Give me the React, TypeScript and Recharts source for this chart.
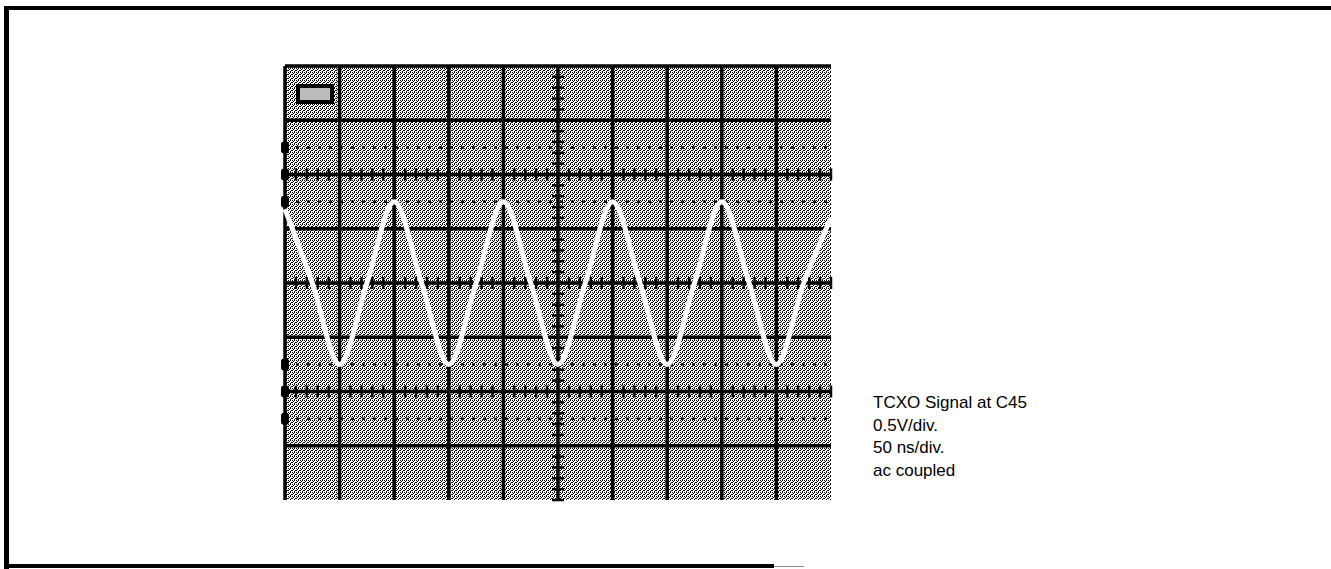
import React from "react";
import {
  ComposedChart,
  Line,
  Scatter,
  XAxis,
  YAxis,
  CartesianGrid,
  ReferenceLine,
} from "recharts";

// time base: 50 ns/div, 10 divisions
const timeTicks = [0, 50, 100, 150, 200, 250, 300, 350, 400, 450, 500];
// vertical: 0.5 V/div, 8 divisions
const voltTicks = [-2, -1.5, -1, -0.5, 0, 0.5, 1, 1.5, 2];
// dotted rise-time lines
const dottedLevels = [1.25, 0.75, -0.75, -1.25];
// lines carrying the minor tick marks
const tickedLevels = [1, 0, -1];
const centerTime = 250;
// graticule markers on the left edge
const markerLevels = [1.25, 1, 0.75, -0.75, -1, -1.25];

const sampleTimes = [
  0, 25, 50, 75, 100, 125, 150, 175, 200, 225, 250, 275, 300, 325, 350, 375, 400,
  425, 450, 475, 500,
];
const sampleVolts = [
  0.68, 0, -0.75, 0, 0.75, 0, -0.75, 0, 0.75, 0, -0.75, 0, 0.75, 0, -0.75, 0, 0.75,
  0, -0.75, 0, 0.6,
];

const wave = sampleTimes.map((t, i) => ({ t, v: sampleVolts[i] }));

// minor ticks: 5 per division
const minorTimes: number[] = [];
timeTicks.slice(0, -1).forEach((t) => {
  for (let k = 0; k < 5; k++) minorTimes.push(t + k * 10);
});
minorTimes.push(500);
const minorVolts: number[] = [];
voltTicks.slice(0, -1).forEach((v) => {
  for (let k = 0; k < 5; k++) minorVolts.push(+(v + k * 0.1).toFixed(2));
});

const hTicks = tickedLevels.flatMap((v) => minorTimes.map((t) => ({ t, v })));
const vTicks = minorVolts.map((v) => ({ t: centerTime, v }));
const markers = markerLevels.map((v) => ({ t: 0, v }));

const VTickShape = (p: any) => (
  <line x1={p.cx} x2={p.cx} y1={p.cy - 6} y2={p.cy + 6} stroke="#000" strokeWidth={2.5} />
);
const HTickShape = (p: any) => (
  <line x1={p.cx - 6} x2={p.cx + 6} y1={p.cy} y2={p.cy} stroke="#000" strokeWidth={2.5} />
);
const MarkerShape = (p: any) => (
  <rect x={p.cx - 4} y={p.cy - 6} width={8} height={12} rx={3} fill="#000" />
);

const W = 1331;
const H = 569;

export default function App() {
  return (
    <div
      style={{
        position: "absolute",
        left: 0,
        top: 0,
        width: W,
        height: H,
        background: "#fff",
        overflow: "hidden",
        fontFamily: "'Liberation Sans', Arial, sans-serif",
      }}
    >
      {/* page frame */}
      <div style={{ position: "absolute", left: 4, top: 6, width: W, height: 4, background: "#000" }} />
      <div style={{ position: "absolute", left: 4, top: 6, width: 5, height: 563, background: "#000" }} />
      <div style={{ position: "absolute", left: 4, top: 564, width: 770, height: 4, background: "#000" }} />
      <div style={{ position: "absolute", left: 774, top: 566, width: 30, height: 1, background: "#888" }} />

      <div style={{ position: "absolute", left: 0, top: 0 }}>
        <ComposedChart
          width={W}
          height={H}
          data={wave}
          margin={{ left: 285, right: W - 831, top: 66, bottom: H - 500 }}
        >
          <defs>
            <pattern id="stipple" width="4" height="4" patternUnits="userSpaceOnUse">
              <rect width="4" height="4" fill="#fff" />
              <rect x="0" y="0" width="1" height="1" fill="#000" />
              <rect x="2" y="0" width="1" height="1" fill="#000" />
              <rect x="1" y="1" width="1" height="1" fill="#000" />
              <rect x="3" y="2" width="1" height="1" fill="#000" />
              <rect x="0" y="2" width="1" height="1" fill="#000" />
              <rect x="2" y="3" width="1" height="1" fill="#000" />
            </pattern>
          </defs>
          <CartesianGrid horizontal={false} vertical={false} fill="url(#stipple)" fillOpacity={1} />
          <XAxis type="number" dataKey="t" domain={[0, 500]} ticks={timeTicks} hide />
          <YAxis type="number" dataKey="v" domain={[-2, 2]} ticks={voltTicks} hide />

          {dottedLevels.map((v) => (
            <ReferenceLine
              key={`d${v}`}
              y={v}
              stroke="#111"
              strokeWidth={2.5}
              strokeDasharray="3 8"
            />
          ))}
          {timeTicks.slice(0, -1).map((t) => (
            <ReferenceLine key={`x${t}`} x={t} stroke="#000" strokeWidth={3.5} />
          ))}
          {voltTicks.slice(1).map((v) => (
            <ReferenceLine key={`y${v}`} y={v} stroke="#000" strokeWidth={3.5} />
          ))}

          <Scatter data={hTicks} dataKey="v" shape={VTickShape} isAnimationActive={false} />
          <Scatter data={vTicks} dataKey="v" shape={HTickShape} isAnimationActive={false} />
          <Scatter data={markers} dataKey="v" shape={MarkerShape} isAnimationActive={false} />

          <Line
            type="monotone"
            dataKey="v"
            stroke="#fff"
            strokeWidth={5}
            dot={false}
            activeDot={false}
            isAnimationActive={false}
            zIndex={700}
          />
        </ComposedChart>
      </div>

      {/* readout box in the top-left corner of the screen */}
      <div
        style={{
          position: "absolute",
          left: 296,
          top: 84,
          width: 30,
          height: 12,
          border: "4px solid #000",
          background: "#bbb",
        }}
      />

      <div
        style={{
          position: "absolute",
          left: 873,
          top: 392,
          fontSize: 17,
          lineHeight: "22.5px",
          color: "#000",
        }}
      >
        <div>TCXO Signal at C45</div>
        <div>0.5V/div.</div>
        <div>50 ns/div.</div>
        <div>ac coupled</div>
      </div>
    </div>
  );
}
